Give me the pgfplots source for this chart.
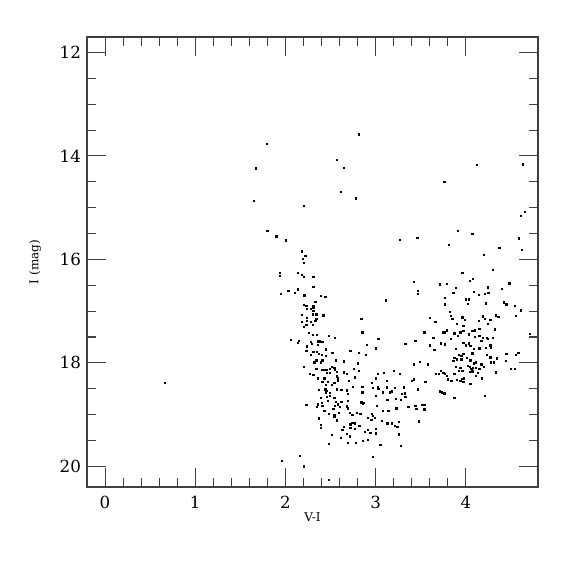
\documentclass[border=0pt]{standalone}
\usepackage{fontspec}
\setmainfont{DejaVu Serif}
\usepackage{pgfplots}
\pgfplotsset{compat=1.18}
\begin{document}
\begin{tikzpicture}
\begin{axis}[
  scale only axis, width=338.25pt, height=337.5pt,
  clip=false,
  /pgf/number format/assume math mode=true,
  xmin=-0.2, xmax=4.8, ymin=11.7, ymax=20.4, y dir=reverse,
  xtick={0,1,2,3,4}, ytick={12,14,16,18,20},
  minor x tick num=4, minor y tick num=3,
  tick align=inside, tick pos=both,
  major tick length=14pt, minor tick length=7pt,
  axis line style={black!75, line width=0.8pt},
  every tick/.style={black!75, line width=0.8pt},
  tick label style={font=\fontsize{12.5}{14}\selectfont},
  xticklabel style={yshift=-3pt},
  yticklabel style={xshift=-1pt},
  xlabel={V-I}, ylabel={I (mag)},
  label style={font=\fontsize{9}{11}\selectfont},
  xlabel style={at={(axis description cs:0.5,-0.067)}, anchor=center},
  ylabel style={at={(axis description cs:-0.115,0.5)}, anchor=center},
]
\path (axis description cs:-0.1929,-0.1956) rectangle (axis description cs:1.082,1.0822);
\addplot[only marks, mark=square*, mark size=0.5pt, black] coordinates {
(1.79,13.76)(1.67,14.24)(1.65,14.87)(1.80,15.44)(1.90,15.55)(2.00,15.63)
(2.81,13.58)(2.57,14.08)(2.65,14.23)(2.61,14.69)(2.78,14.82)(2.20,14.96)(3.27,15.62)(3.46,15.58)(2.18,15.84)(2.22,15.93)(2.19,15.99)
(4.12,14.17)(4.63,14.16)(3.76,14.50)(4.65,15.08)(4.61,15.16)(3.91,15.44)(4.07,15.50)(4.59,15.59)(3.81,15.72)(4.37,15.77)(4.62,15.81)
(2.20,16.06)(1.94,16.26)(1.94,16.31)(2.14,16.26)(2.18,16.30)(2.20,16.34)(2.31,16.34)(2.31,16.53)(1.95,16.66)(2.03,16.61)(2.10,16.64)(2.14,16.58)(2.21,16.68)(2.21,16.70)(2.39,16.70)(2.44,16.72)(2.33,16.82)(2.20,16.88)(2.23,16.89)(2.31,16.90)(2.31,16.94)(2.28,16.96)(2.24,16.95)(2.31,16.99)(2.18,17.07)(2.30,17.06)(2.34,17.06)(2.24,17.13)(2.42,17.08)(2.34,17.15)
(2.18,17.21)(2.24,17.18)(2.28,17.21)(2.30,17.26)(2.23,17.27)(2.20,17.30)(2.33,17.18)(2.26,17.42)(2.30,17.46)(2.35,17.46)(2.48,17.48)(2.55,17.52)(2.06,17.55)(2.15,17.57)(2.14,17.61)(2.29,17.63)(2.28,17.59)(2.36,17.58)(2.38,17.58)(2.41,17.59)(2.36,17.65)(2.24,17.68)(2.45,17.74)(2.23,17.77)(2.31,17.78)(2.35,17.78)(2.52,17.80)(2.37,17.82)(2.28,17.85)(2.40,17.84)(2.45,17.86)(2.41,17.94)(2.56,17.95)(2.65,17.97)(2.34,17.95)(2.32,17.99)(2.39,17.99)(2.41,17.95)(2.20,18.07)(2.34,18.12)(2.40,18.14)(2.43,18.13)(2.46,18.13)(2.49,18.11)(2.54,18.09)(2.51,18.07)(2.55,18.14)(2.46,18.19)(2.49,18.19)(2.57,18.17)(2.65,18.18)(2.27,18.21)(2.31,18.23)(2.36,18.30)(2.43,18.30)(2.57,18.26)(2.58,18.30)(2.58,18.34)(2.41,18.37)(2.47,18.37)(2.54,18.38)(2.51,18.42)(2.45,18.43)(2.37,18.52)(2.44,18.51)(2.46,18.54)(2.45,18.57)(2.49,18.58)(2.57,18.51)(2.62,18.52)(2.49,18.64)(2.46,18.65)(2.39,18.67)(2.54,18.67)
(2.23,18.81)(2.36,18.80)(2.35,18.85)(2.40,18.77)(2.41,18.83)(2.47,18.73)(2.56,18.75)(2.58,18.80)(2.55,18.83)(2.62,18.75)(2.60,18.85)(2.53,18.89)(2.43,18.92)(2.48,18.99)(2.54,19.00)(2.54,19.03)(2.59,18.96)(2.37,19.07)(2.57,19.11)(2.39,19.20)(2.39,19.26)(2.65,19.24)(2.63,19.30)(2.51,19.39)(2.61,19.45)(2.48,19.56)(2.16,19.79)(1.96,19.89)(2.20,20.00)(2.48,20.26)
(3.11,16.79)(2.84,17.15)(2.85,17.41)(3.03,17.54)(2.90,17.65)(3.00,17.72)(3.33,17.63)(2.72,17.77)(2.81,17.80)(2.89,17.84)(2.80,18.01)(2.76,18.12)(2.81,18.15)(2.68,18.21)(2.77,18.28)(3.02,18.21)(3.09,18.19)(3.20,18.15)(3.27,18.21)(3.00,18.30)
(2.70,18.35)(3.12,18.34)(2.75,18.46)(2.85,18.46)(2.96,18.38)(2.97,18.48)(3.02,18.47)(3.03,18.50)(3.12,18.47)(3.18,18.55)(3.21,18.48)(3.31,18.47)(2.68,18.53)(2.69,18.60)(2.85,18.57)(3.08,18.57)(3.16,18.57)(3.29,18.60)(3.32,18.59)(3.33,18.65)(3.00,18.64)(3.13,18.71)(3.22,18.70)(3.28,18.71)(2.69,18.73)(2.84,18.76)(2.86,18.79)(2.87,18.77)(2.68,18.84)(2.69,18.88)(3.01,18.83)(3.08,18.92)(3.14,18.92)(3.23,18.88)(3.36,18.85)(3.45,18.89)(2.71,18.97)(2.74,19.00)(2.79,18.97)(2.83,18.99)(2.91,19.06)(2.96,18.99)(2.97,19.02)(2.95,19.10)(3.07,19.12)(2.99,19.06)(3.13,19.17)(3.18,19.17)(3.21,19.21)(3.26,19.14)(3.24,19.24)(3.48,19.13)(2.74,19.16)(2.72,19.19)(2.72,19.26)(2.77,19.17)(2.77,19.27)(2.82,19.22)(2.88,19.33)(2.91,19.30)(2.94,19.35)(3.00,19.28)(3.00,19.36)(3.26,19.38)(2.68,19.37)(2.71,19.42)(2.69,19.54)(2.78,19.55)(2.86,19.50)(2.91,19.49)(3.05,19.59)(3.28,19.60)(2.97,19.82)
(3.96,16.26)(3.42,16.43)(3.71,16.48)(3.79,16.47)(4.04,16.41)(4.08,16.37)(3.89,16.55)(3.47,16.60)(3.47,16.67)(3.86,16.64)(4.09,16.63)(3.77,16.74)(4.00,16.77)(4.03,16.77)(4.02,16.86)(3.77,16.87)(3.82,17.01)(3.83,17.09)(3.85,17.15)(3.60,17.13)(3.66,17.21)(3.96,17.12)(3.99,17.17)(3.90,17.25)(3.97,17.28)
(3.54,17.41)(3.75,17.41)(3.79,17.37)(3.77,17.41)(3.87,17.43)(3.91,17.47)(3.94,17.41)(3.97,17.38)(4.03,17.45)(4.07,17.38)(4.10,17.50)(3.44,17.57)(3.64,17.51)(3.72,17.62)(3.83,17.54)(3.77,17.64)(3.97,17.61)(4.00,17.66)(4.03,17.62)(3.60,17.66)(3.65,17.75)(3.89,17.73)(4.05,17.67)(4.09,17.73)(4.07,17.81)(3.87,17.90)(3.92,17.84)(3.95,17.86)(3.97,17.83)(3.86,17.96)(3.90,17.93)(3.95,17.93)(4.01,17.90)(4.05,17.95)(4.07,17.83)(4.09,18.01)(3.42,18.03)(3.49,17.98)(3.58,18.03)(3.89,18.08)(3.94,18.09)(3.96,18.15)(3.92,18.15)(4.02,18.05)(4.04,18.08)(4.06,18.12)(4.04,18.17)(4.07,18.16)(4.08,18.10)(3.72,18.15)(3.70,18.21)(3.67,18.21)(3.75,18.19)(3.77,18.21)(3.79,18.25)(3.87,18.21)(3.80,18.32)(3.84,18.35)(3.90,18.33)(3.94,18.35)(3.96,18.31)(3.98,18.30)(3.97,18.37)(4.05,18.41)(3.40,18.34)(3.42,18.32)(3.55,18.37)(3.47,18.51)(3.71,18.55)(3.73,18.57)(3.76,18.59)(3.87,18.68)(3.44,18.83)(3.51,18.81)(3.54,18.81)(3.54,18.90)
(4.20,15.91)(4.30,16.20)(4.48,16.46)(4.40,16.57)(4.24,16.54)(4.14,16.68)(4.21,16.67)(4.25,16.65)(4.22,16.85)(4.42,16.83)(4.45,16.87)(4.54,16.90)(4.61,16.97)(4.61,16.99)(4.33,17.08)(4.36,17.11)(4.55,17.09)(4.19,17.10)(4.21,17.15)(4.27,17.17)(4.14,17.19)(4.24,17.24)(4.15,17.34)(4.32,17.35)(4.71,17.44)(4.10,17.37)(4.15,17.48)(4.19,17.52)(4.23,17.51)(4.24,17.54)(4.30,17.51)(4.17,17.57)(4.27,17.66)(4.28,17.70)(4.22,17.71)(4.15,17.72)(4.45,17.82)(4.58,17.81)(4.55,17.85)(4.23,17.85)(4.27,17.89)(4.34,17.91)(4.31,17.99)(4.28,17.99)(4.44,17.96)(4.11,17.99)(4.17,18.03)(4.20,18.07)(4.15,18.11)(4.11,18.10)(4.50,18.11)(4.54,18.11)(4.33,18.18)(4.13,18.19)(4.11,18.25)(4.18,18.30)(4.21,18.63)
(0.66,18.39)
};
\end{axis}
\end{tikzpicture}
\end{document}
